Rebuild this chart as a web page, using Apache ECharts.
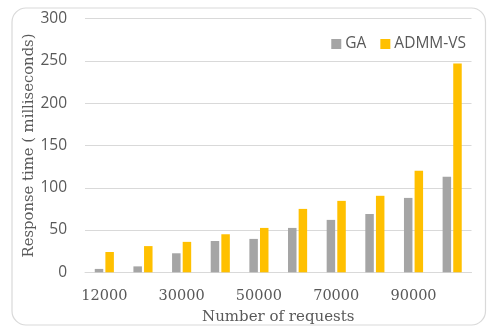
<!DOCTYPE html>
<html>
<head>
<meta charset="utf-8">
<script src="https://cdn.jsdelivr.net/npm/echarts@6/dist/echarts.min.js"></script>
<style>
  html, body { margin: 0; padding: 0; background: #ffffff; }
  #chart { width: 489px; height: 329px; }
</style>
</head>
<body>
<div id="chart"></div>
<script>
// Request counts on the x axis
const categories = ['12000', '20000', '30000', '40000', '50000', '60000', '70000', '80000', '90000', '100000'];
// Response times in milliseconds
const gaValues = [4, 7, 22.5, 37, 39.5, 52.5, 62, 69, 88, 113];
const admmValues = [24, 31, 36, 45, 52.5, 75, 84.5, 90.5, 120, 247];
const yTicks = { min: 0, max: 300, interval: 50 };

const serif = '"DejaVu Serif", "Liberation Serif", serif';
const sans = '"Open Sans", "Liberation Sans", sans-serif';
const textColor = '#595959';

const chart = echarts.init(document.getElementById('chart'), null, { renderer: 'canvas' });
chart.setOption({
  animation: false,
  backgroundColor: '#ffffff',
  graphic: [{
    type: 'rect',
    shape: { x: 12, y: 8, width: 473.5, height: 317, r: 14 },
    style: { fill: 'none', stroke: '#d9d9d9', lineWidth: 1.2 },
    z: -1
  }],
  legend: {
    right: 18,
    top: 31,
    itemWidth: 10,
    itemHeight: 10,
    itemGap: 14,
    icon: 'rect',
    textStyle: { fontFamily: sans, fontSize: 15.5, color: textColor, padding: [0, 0, 0, -1] },
    data: ['GA', 'ADMM-VS']
  },
  grid: { left: 85, right: 17.5, top: 18.7, bottom: 56.7, containLabel: false, outerBoundsMode: 'none' },
  xAxis: {
    type: 'category',
    data: categories,
    name: 'Number of requests',
    nameLocation: 'middle',
    nameGap: 37,
    nameMoveOverlap: false,
    nameTextStyle: { fontFamily: serif, fontSize: 15, color: textColor },
    axisLine: { show: true, lineStyle: { color: '#d9d9d9', width: 1 } },
    axisTick: { show: false },
    axisLabel: { interval: 1, fontFamily: serif, fontSize: 14.5, color: textColor, margin: 16 }
  },
  yAxis: {
    type: 'value',
    min: yTicks.min,
    max: yTicks.max,
    interval: yTicks.interval,
    name: 'Response time ( milliseconds)',
    nameLocation: 'middle',
    nameGap: 48,
    nameMoveOverlap: false,
    nameRotate: 90,
    nameTextStyle: { fontFamily: serif, fontSize: 14.8, color: textColor },
    axisLine: { show: false },
    axisTick: { show: false },
    axisLabel: { fontFamily: sans, fontSize: 15.5, color: textColor, margin: 18 },
    splitLine: { lineStyle: { color: '#d9d9d9', width: 1 } }
  },
  series: [
    {
      name: 'GA',
      type: 'bar',
      data: gaValues,
      barWidth: 8.5,
      barGap: '25%',
      itemStyle: { color: '#a5a5a5' }
    },
    {
      name: 'ADMM-VS',
      type: 'bar',
      data: admmValues,
      barWidth: 8.5,
      barGap: '25%',
      itemStyle: { color: '#ffc000' }
    }
  ]
});
</script>
</body>
</html>
